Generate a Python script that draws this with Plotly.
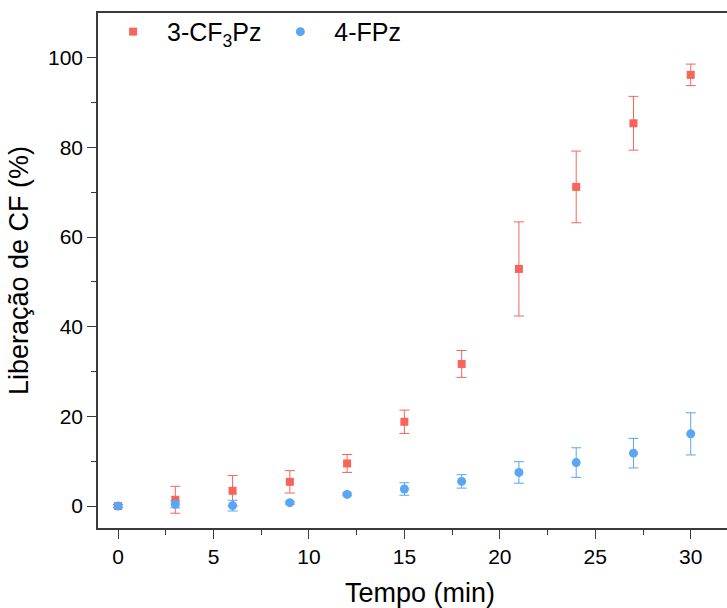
import plotly.graph_objects as go

time_min = [0, 3, 6, 9, 12, 15, 18, 21, 24, 27, 30]
cf3_mean = [0.0, 1.4, 3.4, 5.4, 9.5, 18.8, 31.7, 52.9, 71.2, 85.4, 96.2]
cf3_err = [0.4, 3.0, 3.4, 2.5, 2.0, 2.6, 3.0, 10.5, 8.0, 6.0, 2.4]
fpz_mean = [0.0, 0.4, 0.1, 0.75, 2.6, 3.8, 5.5, 7.5, 9.7, 11.8, 16.1]
fpz_err = [0.3, 0.8, 1.2, 0.3, 0.3, 1.4, 1.5, 2.4, 3.3, 3.3, 4.7]

red = "#F6645B"
blue = "#58A6F4"
NB = "\u00a0"

fig = go.Figure()
fig.add_trace(go.Scatter(
    x=time_min, y=cf3_mean, mode="markers", name=NB * 2 + "3-CF<sub>3</sub>Pz" + NB * 2,
    marker=dict(symbol="square", size=8, color=red),
    error_y=dict(type="data", array=cf3_err, visible=True, color=red, thickness=1, width=5),
))
fig.add_trace(go.Scatter(
    x=time_min, y=fpz_mean, mode="markers", name=NB * 2 + "4-FPz",
    marker=dict(symbol="circle", size=9, color=blue),
    error_y=dict(type="data", array=fpz_err, visible=True, color=blue, thickness=1, width=5),
))

axis_common = dict(
    showgrid=False, zeroline=False, showline=True, linecolor="#3a3a3a", linewidth=1.5,
    ticks="outside", ticklen=9, tickwidth=1.2, tickcolor="#3a3a3a",
    tickfont=dict(size=21, color="black", family="Liberation Sans"),
)
fig.update_xaxes(**axis_common, range=[-1.05, 31.9], tickvals=[0, 5, 10, 15, 20, 25, 30],
                 mirror=True,
                 minor=dict(tickvals=[2.5, 7.5, 12.5, 17.5, 22.5, 27.5], ticklen=5, ticks="outside",
                            tickcolor="#3a3a3a", tickwidth=1.2))
fig.update_yaxes(**axis_common, range=[-4.9, 110], tickvals=[0, 20, 40, 60, 80, 100],
                 minor=dict(tickvals=[10, 30, 50, 70, 90], ticklen=5, ticks="outside",
                            tickcolor="#3a3a3a", tickwidth=1.2),
                 title=dict(text="Liberação de CF (%)", font=dict(size=27, color="black", family="Liberation Sans"),
                            standoff=12))

fig.add_annotation(text="Tempo (min)", xref="paper", yref="paper", x=0.512, y=-0.126,
                   xanchor="center", yanchor="middle", showarrow=False,
                   font=dict(size=27, color="black", family="Liberation Sans"))

fig.update_layout(
    width=727, height=608,
    margin=dict(l=98, r=0, t=13, b=80),
    paper_bgcolor="white", plot_bgcolor="white",
    font=dict(family="Liberation Sans", color="black"),
    legend=dict(orientation="h", x=0.024, y=1.008, xanchor="left", yanchor="top",
                font=dict(size=25, color="black"), bgcolor="rgba(0,0,0,0)",
                itemwidth=30, tracegroupgap=0),
    showlegend=True,
)
fig.write_html("out.html")
